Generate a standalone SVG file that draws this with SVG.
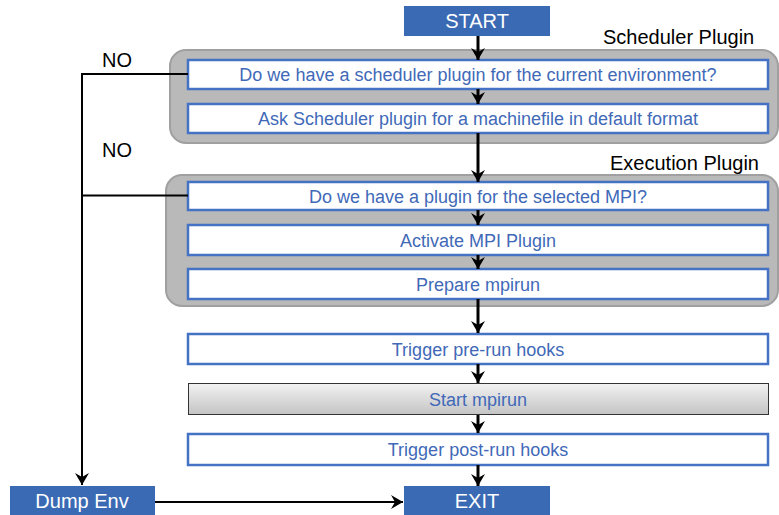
<svg xmlns="http://www.w3.org/2000/svg" width="779" height="515" viewBox="0 0 779 515">
<style>
.grp{fill:#b9b9b9;stroke:#a0a0a0;stroke-width:2}
.box{fill:#fff;stroke:#4472c4;stroke-width:2.5}
.hdr{fill:#3a6ab4}
.bt{font-family:"Liberation Sans",Arial,sans-serif;font-size:18px;fill:#4169b8;text-anchor:middle}
.ht{font-family:"Liberation Sans",Arial,sans-serif;font-size:20px;fill:#fff;text-anchor:middle}
.lb{font-family:"Liberation Sans",Arial,sans-serif;font-size:20px;fill:#000}
.fl{stroke:#000;stroke-width:3;fill:none}
.th{stroke:#000;stroke-width:2;fill:none}
</style>
<defs>
<linearGradient id="gg" x1="0" y1="0" x2="0" y2="1">
<stop offset="0" stop-color="#f2f2f2"/>
<stop offset="1" stop-color="#c4c4c4"/>
</linearGradient>
<marker id="ah" markerWidth="14" markerHeight="14" viewBox="0 0 12 14" refX="12" refY="7" orient="auto" markerUnits="userSpaceOnUse">
<path d="M0,0 L12,7 L0,14 L4,7 Z" fill="#000"/>
</marker>
</defs>
<g id="scheduler-group">
<rect class="grp" x="170" y="50" width="608" height="93" rx="16"/>
<text class="lb" x="603" y="44">Scheduler Plugin</text>
</g>
<g id="execution-group">
<rect class="grp" x="166" y="175" width="612" height="131" rx="16"/>
<text class="lb" x="610" y="170">Execution Plugin</text>
</g>
<g id="start"><rect class="hdr" x="404" y="6" width="146" height="30"/><text class="ht" x="477" y="28">START</text></g>
<g id="q-scheduler"><rect class="box" x="188" y="60" width="580" height="29"/><text class="bt" x="478" y="81">Do we have a scheduler plugin for the current environment?</text></g>
<g id="ask-scheduler"><rect class="box" x="188" y="104" width="580" height="29"/><text class="bt" x="478" y="125">Ask Scheduler plugin for a machinefile in default format</text></g>
<g id="q-mpi"><rect class="box" x="188" y="182" width="580" height="28"/><text class="bt" x="478" y="203">Do we have a plugin for the selected MPI?</text></g>
<g id="activate"><rect class="box" x="188" y="225" width="580" height="30"/><text class="bt" x="478" y="247">Activate MPI Plugin</text></g>
<g id="prepare"><rect class="box" x="188" y="269" width="580" height="30"/><text class="bt" x="478" y="291">Prepare mpirun</text></g>
<g id="pre-run"><rect class="box" x="188" y="334" width="580" height="30"/><text class="bt" x="478" y="356">Trigger pre-run hooks</text></g>
<g id="start-mpirun"><rect x="188.5" y="383.5" width="580" height="31" fill="url(#gg)" stroke="#333" stroke-width="1"/><text class="bt" x="478" y="406">Start mpirun</text></g>
<g id="post-run"><rect class="box" x="188" y="434" width="580" height="31" /><text class="bt" x="478" y="456">Trigger post-run hooks</text></g>
<g id="dump-env"><rect class="hdr" x="10" y="486" width="145" height="29"/><text class="ht" x="82" y="508">Dump Env</text></g>
<g id="exit"><rect class="hdr" x="404" y="486" width="146" height="29"/><text class="ht" x="477" y="508">EXIT</text></g>
<g id="connectors">
<line class="fl" x1="478" y1="36" x2="478" y2="60" marker-end="url(#ah)"/>
<line class="fl" x1="478" y1="89" x2="478" y2="104" marker-end="url(#ah)"/>
<line class="fl" x1="478" y1="133" x2="478" y2="182" marker-end="url(#ah)"/>
<line class="fl" x1="478" y1="210" x2="478" y2="225" marker-end="url(#ah)"/>
<line class="fl" x1="478" y1="255" x2="478" y2="269" marker-end="url(#ah)"/>
<line class="fl" x1="478" y1="299" x2="478" y2="333" marker-end="url(#ah)"/>
<line class="fl" x1="478" y1="364" x2="478" y2="383" marker-end="url(#ah)"/>
<line class="fl" x1="478" y1="415" x2="478" y2="433" marker-end="url(#ah)"/>
<line class="fl" x1="478" y1="465" x2="478" y2="486" marker-end="url(#ah)"/>
<polyline class="th" points="188,74 82,74 82,485" marker-end="url(#ah)"/>
<line class="th" x1="188" y1="195.5" x2="82" y2="195.5"/>
<line class="th" x1="155" y1="502" x2="403" y2="502" marker-end="url(#ah)"/>
<text class="lb" x="102" y="67">NO</text>
<text class="lb" x="102" y="157">NO</text>
</g>
</svg>
